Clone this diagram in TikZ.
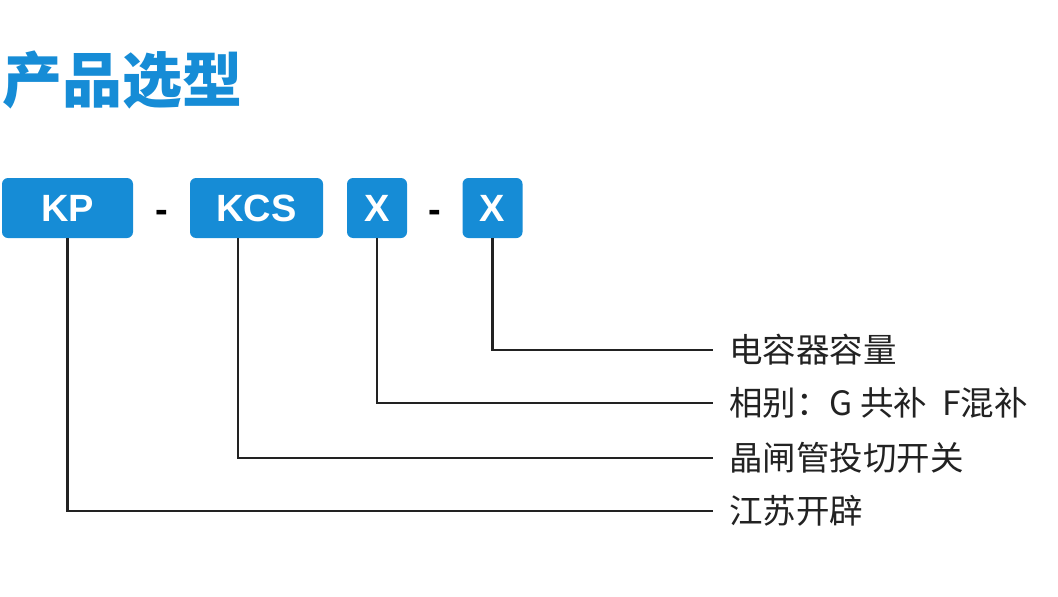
\documentclass[tikz,border=0pt]{standalone}
\usepackage{fontspec}
\usepackage{xcolor}
\newfontfamily\cjk{Noto Sans CJK SC}
\newfontfamily\boxfont{Liberation Sans}
\definecolor{kpblue}{RGB}{22,140,214}
\definecolor{linegray}{RGB}{34,34,34}
\tikzset{
    codebox/.style={fill=kpblue, rounded corners=6pt, minimum height=60pt, inner sep=0pt,
        text=white, font=\boxfont\bfseries\fontsize{38}{38}\selectfont},
    sep/.style={inner sep=0pt, font=\boxfont\bfseries\fontsize{38}{38}\selectfont},
    lbl/.style={anchor=west, inner xsep=16pt, inner ysep=0pt, text=linegray,
        font=\cjk\fontsize{33.5}{33.5}\selectfont},
    lead/.style={draw=linegray, line width=2.2pt}
}

\begin{document}
\begin{tikzpicture}[x=1pt, y=-1pt]
        \useasboundingbox (0, 0) rectangle (1058, 597);

        \node[anchor=west, inner sep=0pt, text=kpblue, font=\cjk\bfseries\fontsize{60}{60}\selectfont] (title) at (2, 80) {产品选型};

        \node[codebox, minimum width=131pt] (kp) at (67.5, 208) {KP};
        \node[sep] (dash1) at (161.5, 216) {-};
        \node[codebox, minimum width=133pt] (kcs) at (256.5, 208) {KCS};
        \node[codebox, minimum width=60pt] (phase) at (377, 208) {X};
        \node[sep] (dash2) at (435, 216) {-};
        \node[codebox, minimum width=60pt] (cap) at (492.5, 208) {X};

        \node[lbl] (lcap) at (713, 350) {电容器容量};
        \node[lbl] (lphase) at (713, 403) {相别：G 共补 \ F混补};
        \node[lbl] (lkcs) at (713, 458) {晶闸管投切开关};
        \node[lbl] (lkp) at (713, 511) {江苏开辟};

        \draw[lead] (cap.south) |- (lcap.west);
        \draw[lead] (phase.south) |- (lphase.west);
        \draw[lead] (kcs.south -| 238, 0) |- (lkcs.west);
        \draw[lead] (kp.south) |- (lkp.west);
    \end{tikzpicture}
\end{document}
